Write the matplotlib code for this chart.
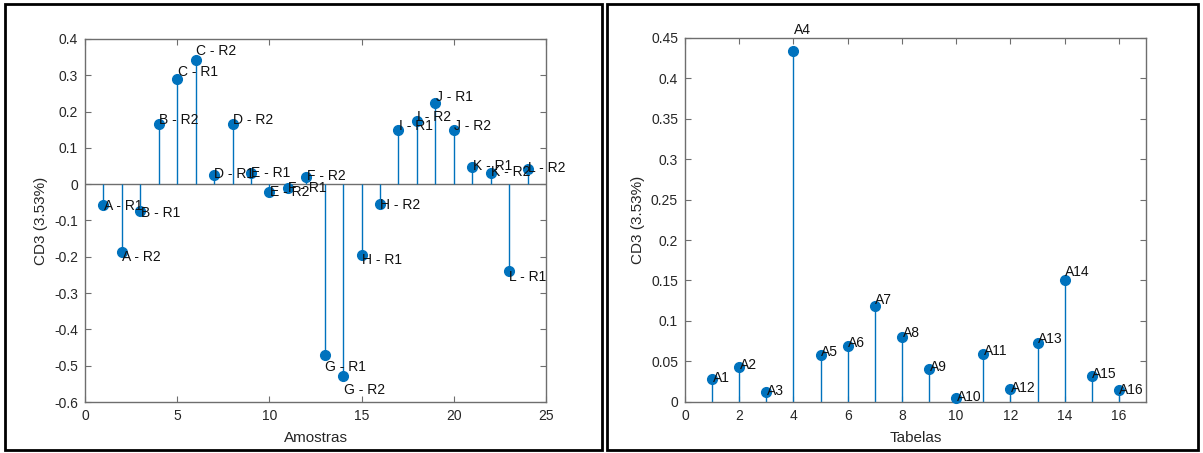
import matplotlib
matplotlib.use("Agg")
import matplotlib.pyplot as plt
from matplotlib.patches import Rectangle
from matplotlib.ticker import FuncFormatter, MultipleLocator

plt.rcParams['font.family'] = ['Liberation Sans', 'DejaVu Sans']
plt.rcParams['axes.unicode_minus'] = False

# ---- data: left panel (Amostras) ----
amostras_x = list(range(1, 25))
amostras_labels = ['A - R1', 'A - R2', 'B - R1', 'B - R2', 'C - R1', 'C - R2',
                   'D - R1', 'D - R2', 'E - R1', 'E - R2', 'F - R1', 'F - R2',
                   'G - R1', 'G - R2', 'H - R1', 'H - R2', 'I - R1', 'I - R2',
                   'J - R1', 'J - R2', 'K - R1', 'K - R2', 'L - R1', 'L - R2']
amostras_cd3 = [-0.056, -0.188, -0.075, 0.166, 0.289, 0.342,
                0.025, 0.166, 0.030, -0.021, -0.010, 0.020,
                -0.470, -0.529, -0.195, -0.054, 0.149, 0.173,
                0.224, 0.149, 0.047, 0.032, -0.240, 0.041]

# ---- data: right panel (Tabelas) ----
tabelas_x = list(range(1, 17))
tabelas_labels = ['A%d' % i for i in range(1, 17)]
tabelas_cd3 = [0.028, 0.043, 0.012, 0.434, 0.058, 0.069, 0.119, 0.080,
               0.040, 0.005, 0.059, 0.016, 0.073, 0.151, 0.032, 0.014]

ylabel = 'CD3 (3.53%)'
stem_color = '#0072BD'
axis_color = '#6e6e6e'
text_color = '#262626'

fig = plt.figure(figsize=(12.03, 4.53), dpi=100)

def style(ax):
    for s in ax.spines.values():
        s.set_color(axis_color)
        s.set_linewidth(1.0)
    ax.tick_params(direction='in', top=True, right=True, length=4, width=0.8,
                   color=axis_color, labelcolor=text_color, labelsize=10, pad=5)
    ax.yaxis.set_major_formatter(FuncFormatter(lambda v, p: '%g' % round(v, 4)))
    ax.xaxis.set_major_formatter(FuncFormatter(lambda v, p: '%g' % round(v, 4)))

# Left panel
ax1 = fig.add_axes([85/1203, 1-402/453, 461/1203, 363/453])
ax1.axhline(0, color=axis_color, lw=1.0, zorder=1)
ax1.vlines(amostras_x, 0, amostras_cd3, color=stem_color, lw=1.0, zorder=2)
ax1.plot(amostras_x, amostras_cd3, 'o', color=stem_color, ms=7, zorder=3)
for x, y, t in zip(amostras_x, amostras_cd3, amostras_labels):
    ax1.text(x + 0.02, y * 1.07, t, ha='left', va='center', fontsize=10,
             color='#111111', zorder=4)
ax1.set_xlim(0, 25)
ax1.set_ylim(-0.6, 0.4)
ax1.xaxis.set_major_locator(MultipleLocator(5))
ax1.yaxis.set_major_locator(MultipleLocator(0.1))
style(ax1)
ax1.set_xlabel('Amostras', fontsize=11, color=text_color, labelpad=6)
ax1.set_ylabel(ylabel, fontsize=11, color=text_color, labelpad=4)

# Right panel
ax2 = fig.add_axes([685/1203, 1-401.7/453, 461/1203, 363.7/453])
ax2.vlines(tabelas_x, 0, tabelas_cd3, color=stem_color, lw=1.0, zorder=2)
ax2.plot(tabelas_x, tabelas_cd3, 'o', color=stem_color, ms=7, zorder=3,
         clip_on=False)
for x, y, t in zip(tabelas_x, tabelas_cd3, tabelas_labels):
    ax2.text(x + 0.02, y * 1.06, t, ha='left', va='center', fontsize=10,
             color='#111111', zorder=4)
ax2.set_xlim(0, 17)
ax2.set_ylim(0, 0.45)
ax2.set_xticks(range(0, 17, 2))
ax2.yaxis.set_major_locator(MultipleLocator(0.05))
style(ax2)
ax2.set_xlabel('Tabelas', fontsize=11, color=text_color, labelpad=6)
ax2.set_ylabel(ylabel, fontsize=11, color=text_color, labelpad=4)

# screenshot frames
W, H = 1203, 453
for (x0, y0, x1, y1) in [(5, 4, 602, 450), (607, 4, 1198, 450)]:
    fig.add_artist(Rectangle((x0/W, 1-y1/H), (x1-x0)/W, (y1-y0)/H,
                             transform=fig.transFigure, fill=False,
                             edgecolor='black', lw=2.0))

fig.savefig('out.png', dpi=100)
